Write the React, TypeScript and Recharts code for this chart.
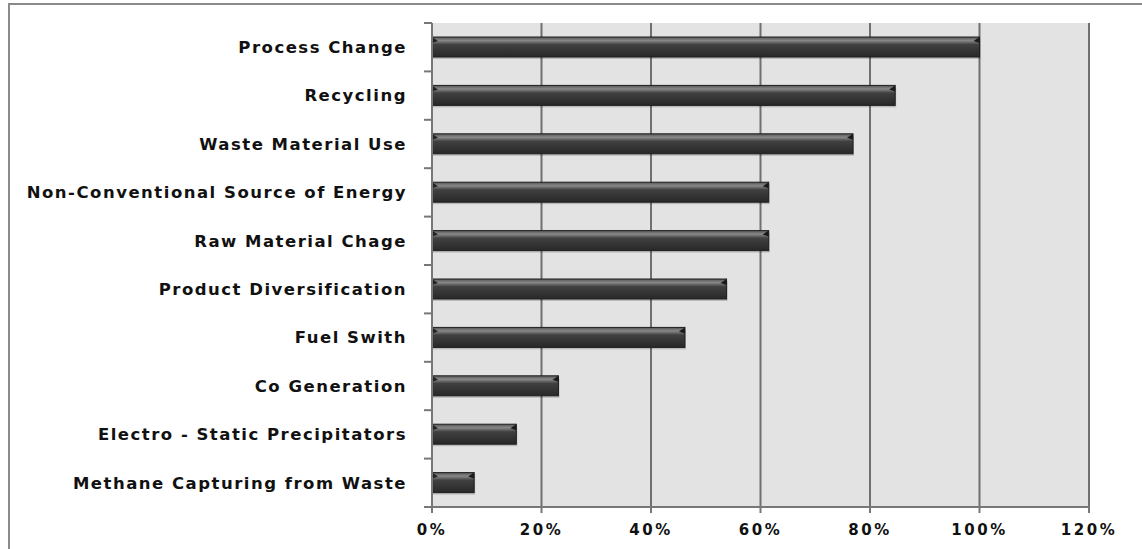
import React from "react";
import { BarChart, Bar, XAxis, YAxis, CartesianGrid } from "recharts";

const categories = [
  "Process Change",
  "Recycling",
  "Waste Material Use",
  "Non-Conventional Source of Energy",
  "Raw Material Chage",
  "Product Diversification",
  "Fuel Swith",
  "Co Generation",
  "Electro - Static Precipitators",
  "Methane Capturing from Waste",
];
const shares = [100, 84.6, 76.9, 61.5, 61.5, 53.8, 46.2, 23.1, 15.4, 7.7];
const xTicks = [0, 20, 40, 60, 80, 100, 120];

const data = categories.map((name, i) => ({ name, share: shares[i] }));

const W = 1142;
const H = 549;
const TOP = 23;
const BOTTOM = 42;
const PLOT_H = H - TOP - BOTTOM;
const BAND = PLOT_H / categories.length;
const AXIS_X = 432;

function CategoryTick(props: any) {
  const { y, payload, index } = props;
  return (
    <g>
      <line x1={AXIS_X - 8} x2={AXIS_X} y1={y - BAND / 2} y2={y - BAND / 2} stroke="#777" strokeWidth={2} />
      {index === categories.length - 1 && (
        <line x1={AXIS_X - 8} x2={AXIS_X} y1={y + BAND / 2} y2={y + BAND / 2} stroke="#777" strokeWidth={2} />
      )}
      <text
        x={AXIS_X - 25}
        y={y}
        dy="0.35em"
        textAnchor="end"
        fontFamily="DejaVu Sans"
        fontWeight="bold"
        fontSize={16.5}
        letterSpacing={1.5}
        fill="#111"
      >
        {payload.value}
      </text>
    </g>
  );
}

function BevelBar(props: any) {
  const { x, y, width, height } = props;
  if (!width) return null;
  const b = Math.min(6, width / 3);
  return (
    <g>
      <rect x={x + 1} y={y + 2} width={width} height={height} fill="#000" opacity={0.18} />
      <rect x={x} y={y} width={width} height={height} fill="url(#barGrad)" stroke="#1e1e1e" strokeWidth={1} />
      <polygon points={`${x},${y} ${x + b},${y + 4} ${x},${y + 6}`} fill="#222" />
      <polygon points={`${x + width},${y} ${x + width - b},${y + 4} ${x + width},${y + 6}`} fill="#1a1a1a" />
    </g>
  );
}

export default function App() {
  return (
    <div style={{ position: "relative", width: W, height: H, overflow: "hidden", background: "#fff" }}>
      <style>{`body{margin:0}`}</style>
      <div
        style={{
          position: "absolute",
          left: 8,
          top: 3,
          width: 1300,
          height: 700,
          border: "2px solid #8a8a8a",
        }}
      />
      <div style={{ position: "absolute", left: 0, top: 0 }}>
        <BarChart
          width={W}
          height={H}
          data={data}
          layout="vertical"
          margin={{ top: TOP, right: 53, bottom: 12, left: 0 }}
          barSize={20}
        >
          <defs>
            <linearGradient id="barGrad" x1="0" y1="0" x2="0" y2="1">
              <stop offset="0%" stopColor="#555" />
              <stop offset="18%" stopColor="#888" />
              <stop offset="38%" stopColor="#404040" />
              <stop offset="100%" stopColor="#282828" />
            </linearGradient>
          </defs>
          <CartesianGrid horizontal={false} fill="#e3e3e3" stroke="#707070" strokeWidth={2} />
          <XAxis
            type="number"
            domain={[0, 120]}
            ticks={xTicks}
            tickFormatter={(v) => `${v}%`}
            height={30}
            axisLine={{ stroke: "#777", strokeWidth: 2 }}
            tickLine={{ stroke: "#777", strokeWidth: 2 }}
            tickSize={6}
            tickMargin={11}
            tick={{ fontFamily: "DejaVu Sans", fontWeight: "bold", fontSize: 15, letterSpacing: 2.5, fill: "#111" }}
          />
          <YAxis
            type="category"
            dataKey="name"
            width={AXIS_X}
            axisLine={{ stroke: "#777", strokeWidth: 2 }}
            tickLine={false}
            tick={<CategoryTick />}
            interval={0}
          />
          <Bar dataKey="share" shape={<BevelBar />} isAnimationActive={false} />
        </BarChart>
      </div>
    </div>
  );
}
